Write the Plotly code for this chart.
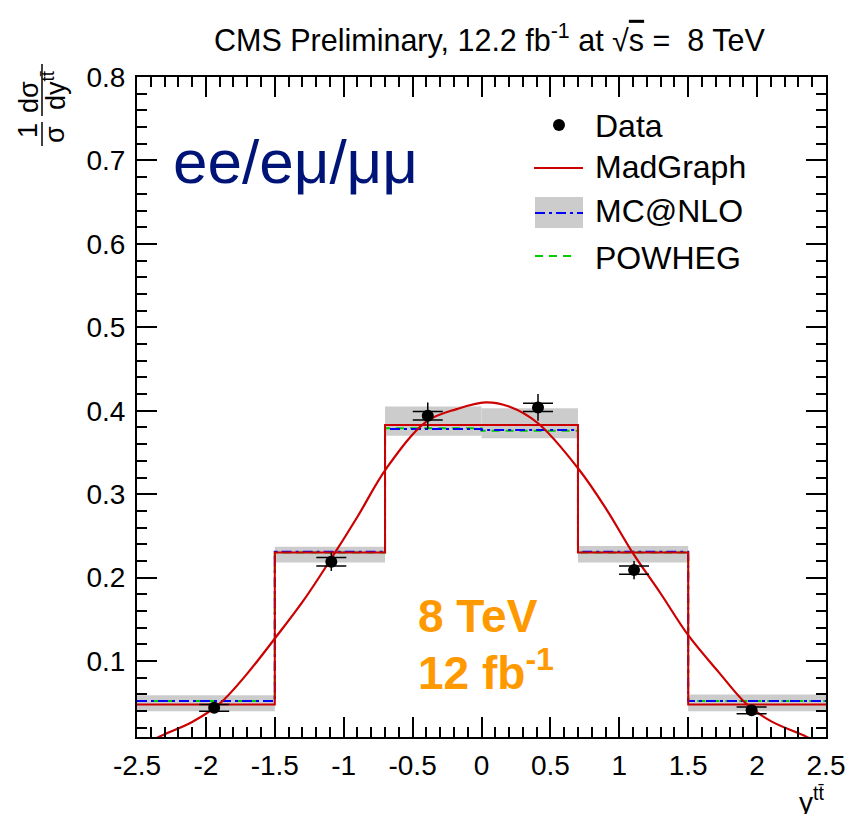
import plotly.graph_objects as go

# ---------------- data ----------------
bin_edges = [-2.5, -1.5, -0.7, 0.0, 0.7, 1.5, 2.5]
madgraph = [0.048, 0.230, 0.383, 0.383, 0.230, 0.048]
mcatnlo = [0.052, 0.231, 0.378, 0.377, 0.231, 0.052]
powheg = [0.052, 0.230, 0.379, 0.376, 0.230, 0.052]
band_low = [0.040, 0.218, 0.370, 0.367, 0.218, 0.040]
band_high = [0.059, 0.237, 0.405, 0.403, 0.238, 0.060]

data_x = [-1.94, -1.09, -0.39, 0.41, 1.107, 1.96]
data_y = [0.044, 0.219, 0.394, 0.404, 0.209, 0.041]
data_err_inner = [0.004, 0.005, 0.005, 0.005, 0.005, 0.004]
data_err_total = [0.005, 0.011, 0.016, 0.016, 0.011, 0.005]

curve_x = [-2.45, -2.33, -2.1, -1.9, -1.7, -1.5, -1.29, -1.09, -0.9, -0.69, -0.4, -0.18,
           0.03, 0.2, 0.41, 0.71, 0.91, 1.1, 1.3, 1.5, 1.73, 1.92, 2.1, 2.35, 2.45]
curve_y = [-0.001, 0.010, 0.027, 0.049, 0.085, 0.127, 0.173, 0.223, 0.273, 0.331, 0.387, 0.402,
           0.410, 0.405, 0.385, 0.329, 0.281, 0.229, 0.181, 0.131, 0.085, 0.049, 0.028, 0.010, 0.002]

x_tickvals = [-2.5, -2, -1.5, -1, -0.5, 0, 0.5, 1, 1.5, 2, 2.5]
x_ticktext = ["-2.5", "-2", "-1.5", "-1", "-0.5", "0", "0.5", "1", "1.5", "2", "2.5"]
y_tickvals = [0.1, 0.2, 0.3, 0.4, 0.5, 0.6, 0.7, 0.8]
y_ticktext = ["0.1", "0.2", "0.3", "0.4", "0.5", "0.6", "0.7", "0.8"]

# ---------------- layout constants ----------------
W, H = 849, 814
ML, MR, MT, MB = 137, 23, 77, 77
PW, PH = W - ML - MR, H - MT - MB
FONT = "Liberation Sans, Arial, Helvetica, sans-serif"
RED = "#cc0000"
BLUE = "#0000ff"
GREEN = "#00cc00"
GREY = "#cccccc"


def px(xp):
    return (xp - ML) / PW


def py(yp):
    return (H - MB - yp) / PH


centers = [(a + b) / 2 for a, b in zip(bin_edges[:-1], bin_edges[1:])]
widths = [b - a for a, b in zip(bin_edges[:-1], bin_edges[1:])]

fig = go.Figure()

# uncertainty band (MC@NLO)
fig.add_trace(go.Bar(
    x=centers, y=[h - l for h, l in zip(band_high, band_low)], base=band_low,
    width=widths, marker=dict(color=GREY, line=dict(width=0)), showlegend=False,
    hoverinfo="skip"))


def step(vals):
    return vals + [vals[-1]]


fig.add_trace(go.Scatter(x=bin_edges, y=step(powheg), mode="lines", line_shape="hv",
                         line=dict(color=GREEN, width=2, dash="8px,6px"), showlegend=False))
fig.add_trace(go.Scatter(x=bin_edges, y=step(mcatnlo), mode="lines", line_shape="hv",
                         line=dict(color=BLUE, width=2, dash="10px,4px,3px,4px"), showlegend=False))
fig.add_trace(go.Scatter(x=bin_edges, y=step(madgraph), mode="lines", line_shape="hv",
                         line=dict(color=RED, width=2), showlegend=False))

# smooth MadGraph curve
fig.add_trace(go.Scatter(x=curve_x, y=curve_y, mode="lines", line_shape="spline",
                         line=dict(color=RED, width=2.2, smoothing=1.0), showlegend=False))

# data: total error (no caps) and inner error (wide caps)
fig.add_trace(go.Scatter(x=data_x, y=data_y, mode="markers",
                         marker=dict(color="black", size=1),
                         error_y=dict(type="data", array=data_err_total, width=0,
                                      thickness=1.5, color="black"),
                         showlegend=False))
fig.add_trace(go.Scatter(x=data_x, y=data_y, mode="markers",
                         marker=dict(color="black", size=12, symbol="circle"),
                         error_y=dict(type="data", array=data_err_inner, width=15,
                                      thickness=1.5, color="black"),
                         showlegend=False))

shapes = []
annotations = []

# ---------------- custom legend ----------------
leg_font = dict(family=FONT, size=32, color="black")
text_x = px(593)
# Data
shapes.append(dict(type="circle", xref="paper", yref="paper",
                   x0=px(553), x1=px(565), y0=py(131), y1=py(119),
                   fillcolor="black", line=dict(color="black", width=0)))
annotations.append(dict(text="Data", x=text_x, y=py(126), xref="paper", yref="paper",
                        xanchor="left", yanchor="middle", showarrow=False, font=leg_font))
# MadGraph
shapes.append(dict(type="line", xref="paper", yref="paper", x0=px(534), x1=px(583),
                   y0=py(168), y1=py(168), line=dict(color=RED, width=2)))
annotations.append(dict(text="MadGraph", x=text_x, y=py(167), xref="paper", yref="paper",
                        xanchor="left", yanchor="middle", showarrow=False, font=leg_font))
# MC@NLO
shapes.append(dict(type="rect", xref="paper", yref="paper", x0=px(535), x1=px(583),
                   y0=py(228), y1=py(197), fillcolor=GREY, line=dict(width=0)))
shapes.append(dict(type="line", xref="paper", yref="paper", x0=px(535), x1=px(583),
                   y0=py(213), y1=py(213), line=dict(color=BLUE, width=2, dash="10px,4px,3px,4px")))
annotations.append(dict(text="MC@NLO", x=text_x, y=py(211), xref="paper", yref="paper",
                        xanchor="left", yanchor="middle", showarrow=False, font=leg_font))
# POWHEG
shapes.append(dict(type="line", xref="paper", yref="paper", x0=px(535), x1=px(577),
                   y0=py(256), y1=py(256), line=dict(color=GREEN, width=2, dash="8px,6px")))
annotations.append(dict(text="POWHEG", x=text_x, y=py(258), xref="paper", yref="paper",
                        xanchor="left", yanchor="middle", showarrow=False, font=leg_font))

# ---------------- texts ----------------
annotations.append(dict(
    text="CMS Preliminary, 12.2 fb<sup>-1</sup> at √<span style='text-decoration:overline'>s</span> =  8 TeV",
    x=px(489), y=py(38), xref="paper", yref="paper", xanchor="center", yanchor="middle",
    showarrow=False, font=dict(family=FONT, size=30.5, color="black")))

annotations.append(dict(text="ee/eμ/μμ", x=px(171), y=py(161), xref="paper", yref="paper",
                        xanchor="left", yanchor="middle", showarrow=False,
                        font=dict(family=FONT, size=62, color="#001478")))

annotations.append(dict(text="<b>8 TeV</b>", x=px(416), y=py(616), xref="paper", yref="paper",
                        xanchor="left", yanchor="middle", showarrow=False,
                        font=dict(family=FONT, size=46, color="#ff9900")))
annotations.append(dict(text="<b>12 fb<sup>-1</sup></b>", x=px(416), y=py(670), xref="paper",
                        yref="paper", xanchor="left", yanchor="middle", showarrow=False,
                        font=dict(family=FONT, size=46, color="#ff9900")))

# x-axis title
annotations.append(dict(text="y<sup>tt̄</sup>", x=1.0, y=py(800), xref="paper", yref="paper",
                        xanchor="right", yanchor="middle", showarrow=False,
                        font=dict(family=FONT, size=28, color="black")))

# y-axis title: (1/σ) (dσ/dy^tt̄), rotated
yl_font = dict(family=FONT, size=27, color="black")
annotations.append(dict(text="1", x=px(28), y=py(131), xref="paper", yref="paper",
                        textangle=-90, xanchor="center", yanchor="middle", showarrow=False,
                        font=yl_font))
annotations.append(dict(text="σ", x=px(55), y=py(135), xref="paper", yref="paper",
                        textangle=-90, xanchor="center", yanchor="middle", showarrow=False,
                        font=yl_font))
annotations.append(dict(text="dσ", x=px(29), y=py(97), xref="paper", yref="paper",
                        textangle=-90, xanchor="center", yanchor="middle", showarrow=False,
                        font=yl_font))
annotations.append(dict(text="dy<sup>tt̄</sup>", x=px(54), y=py(90), xref="paper", yref="paper",
                        textangle=-90, xanchor="center", yanchor="middle", showarrow=False,
                        font=yl_font))
shapes.append(dict(type="line", xref="paper", yref="paper", x0=px(42), x1=px(42),
                   y0=py(122), y1=py(146), line=dict(color="black", width=1.5)))
shapes.append(dict(type="line", xref="paper", yref="paper", x0=px(42), x1=px(42),
                   y0=py(64), y1=py(116), line=dict(color="black", width=1.5)))

fig.update_layout(
    width=W, height=H, autosize=False,
    margin=dict(l=ML, r=MR, t=MT, b=MB, pad=0, autoexpand=False),
    paper_bgcolor="white", plot_bgcolor="white",
    font=dict(family=FONT, size=28, color="black"),
    showlegend=False,
    barmode="overlay",
    shapes=shapes, annotations=annotations,
    xaxis=dict(range=[-2.5, 2.5], tickmode="array", tickvals=x_tickvals, ticktext=x_ticktext,
               ticks="inside", ticklen=20, tickwidth=1.5, tickcolor="black",
               minor=dict(dtick=0.1, tick0=-2.5, ticks="inside", ticklen=10, tickwidth=1.5,
                          tickcolor="black", showgrid=False),
               showline=True, linecolor="black", linewidth=2, mirror="allticks",
               showgrid=False, zeroline=False, tickfont=dict(size=28), ticklabelstandoff=2,
               automargin=False),
    yaxis=dict(range=[0.009, 0.8], tickmode="array", tickvals=y_tickvals, ticktext=y_ticktext,
               ticks="inside", ticklen=20, tickwidth=1.5, tickcolor="black",
               minor=dict(dtick=0.02, tick0=0, ticks="inside", ticklen=10, tickwidth=1.5,
                          tickcolor="black", showgrid=False),
               showline=True, linecolor="black", linewidth=2, mirror="allticks",
               showgrid=False, zeroline=False, tickfont=dict(size=28), ticklabelstandoff=4,
               automargin=False),
)

fig.write_html("out.html", config={"displayModeBar": False},
               post_script="document.body.style.margin='0';document.body.style.padding='0';")
